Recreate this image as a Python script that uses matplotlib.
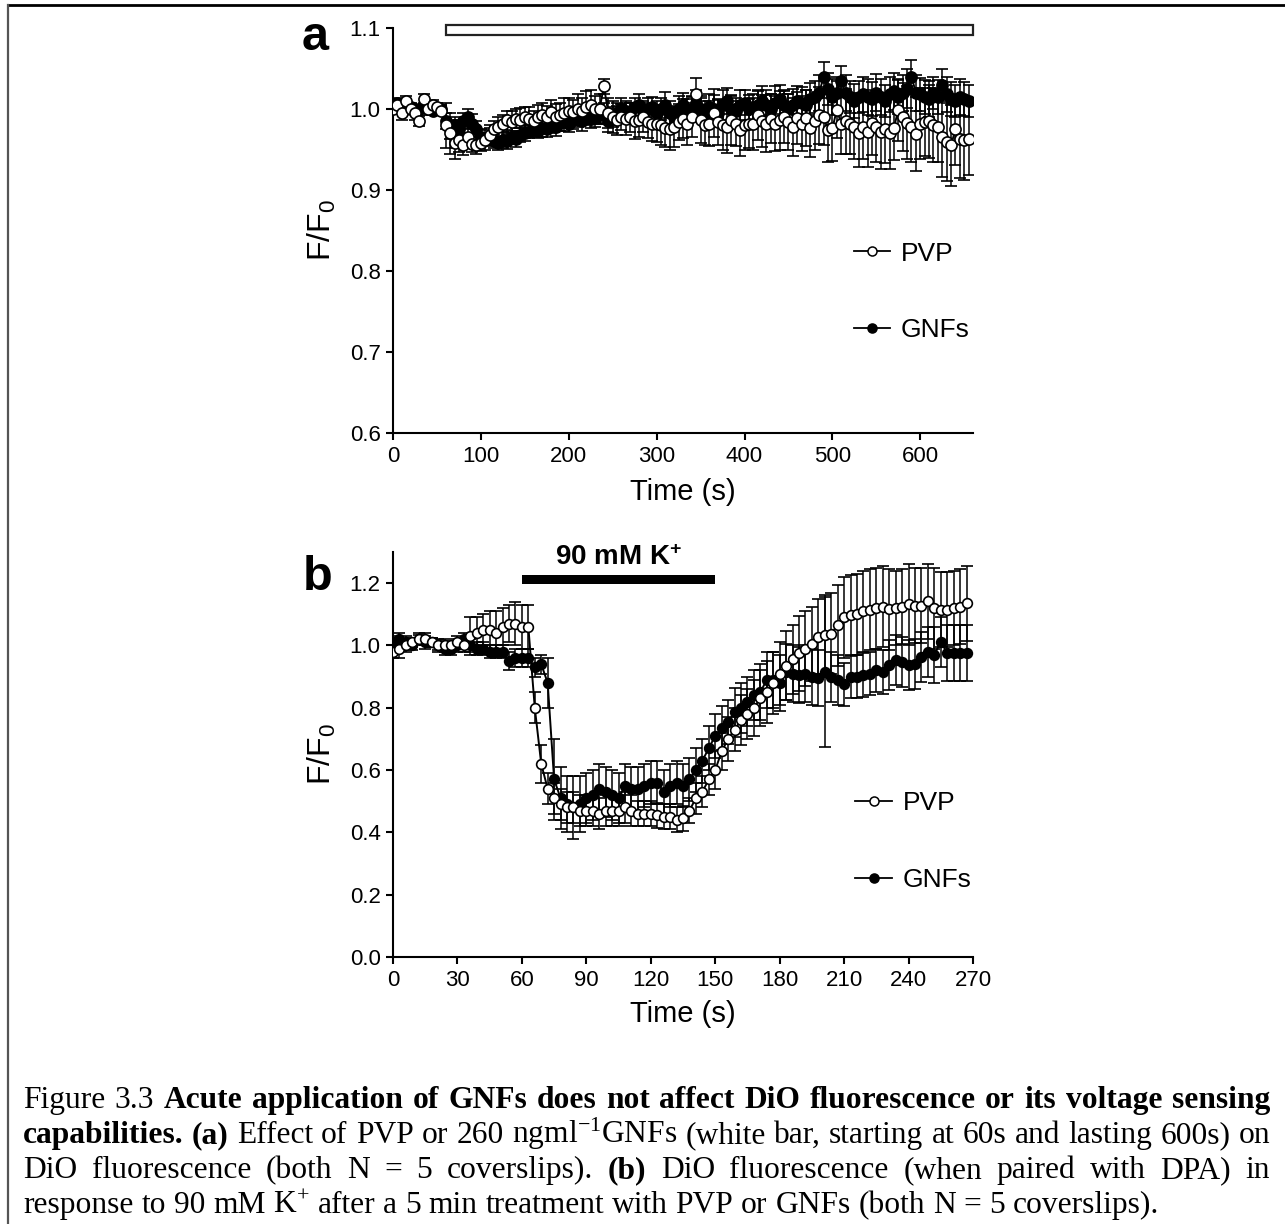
import numpy as np
import matplotlib
matplotlib.use("Agg")
import matplotlib.pyplot as plt
from matplotlib.lines import Line2D
from matplotlib.patches import Rectangle

# ---------------- data: panel a (sampled every 5 s) ----------------
time_a = np.arange(0, 660, 5)
pvp_a = [1.000, 1.005, 0.995, 1.010, 1.000, 0.995, 0.985, 1.012, 1.000, 1.005, 1.002, 0.998,
         0.980, 0.970, 0.958, 0.962, 0.955, 0.965, 0.957, 0.955, 0.958, 0.962, 0.968, 0.975,
         0.978, 0.982, 0.986, 0.984, 0.988, 0.986, 0.990, 0.988, 0.985, 0.990, 0.992, 0.990,
         0.996, 0.990, 0.993, 0.995, 0.998, 0.996, 1.000, 0.998, 1.002, 1.005, 1.000, 1.000,
         1.028, 0.995, 0.990, 0.986, 0.990, 0.988, 0.990, 0.985, 0.986, 0.990, 0.984, 0.982,
         0.981, 0.980, 0.977, 0.975, 0.978, 0.984, 0.988, 0.982, 0.990, 1.018, 0.986, 0.980,
         0.982, 0.995, 0.984, 0.980, 0.978, 0.986, 0.982, 0.974, 0.980, 0.982, 0.982, 0.992,
         0.985, 0.982, 0.988, 0.982, 0.986, 0.990, 0.984, 0.978, 0.989, 0.982, 0.989, 0.977,
         0.985, 0.992, 0.990, 0.974, 0.976, 0.999, 0.982, 0.985, 0.982, 0.978, 0.970, 0.978,
         0.971, 0.983, 0.978, 0.971, 0.975, 0.970, 0.977, 0.999, 0.990, 0.983, 0.978, 0.969,
         0.982, 0.984, 0.985, 0.980, 0.978, 0.966, 0.959, 0.955, 0.975, 0.963, 0.962, 0.963]
pvp_a_err = [0.006, 0.006, 0.008, 0.006, 0.006, 0.008, 0.006, 0.006, 0.008, 0.006, 0.006, 0.006,
             0.028, 0.025, 0.020, 0.015, 0.012, 0.012, 0.010, 0.010, 0.010, 0.012, 0.012, 0.010,
             0.012, 0.010, 0.012, 0.014, 0.012, 0.015, 0.012, 0.014, 0.012, 0.015, 0.016, 0.014,
             0.015, 0.016, 0.014, 0.018, 0.016, 0.015, 0.018, 0.016, 0.020, 0.018, 0.016, 0.018,
             0.009, 0.018, 0.020, 0.018, 0.016, 0.020, 0.018, 0.022, 0.020, 0.018, 0.020, 0.022,
             0.022, 0.025, 0.024, 0.026, 0.025, 0.022, 0.024, 0.026, 0.025, 0.020, 0.028, 0.025,
             0.028, 0.030, 0.028, 0.030, 0.032, 0.030, 0.028, 0.032, 0.030, 0.030, 0.032, 0.030,
             0.032, 0.035, 0.030, 0.034, 0.036, 0.032, 0.034, 0.036, 0.032, 0.034, 0.035, 0.036,
             0.036, 0.035, 0.034, 0.040, 0.040, 0.035, 0.038, 0.040, 0.038, 0.040, 0.042, 0.040,
             0.042, 0.040, 0.044, 0.045, 0.042, 0.044, 0.040, 0.038, 0.042, 0.045, 0.044, 0.046,
             0.044, 0.042, 0.045, 0.046, 0.044, 0.050, 0.048, 0.050, 0.044, 0.048, 0.050, 0.045]
gnf_a = [1.005, 1.008, 1.003, 1.000, 1.002, 1.000, 1.000, 1.003, 1.000, 0.998, 1.000, 1.000,
         0.985, 0.975, 0.980, 0.975, 0.985, 0.990, 0.982, 0.975, 0.965, 0.962, 0.966, 0.960,
         0.958, 0.962, 0.960, 0.965, 0.963, 0.968, 0.970, 0.972, 0.975, 0.973, 0.976, 0.975,
         0.980, 0.978, 0.983, 0.985, 0.982, 0.986, 0.988, 0.985, 0.990, 0.988, 0.990, 0.992,
         0.995, 0.985, 0.990, 0.995, 1.000, 0.998, 0.995, 1.002, 1.005, 0.998, 1.000, 1.003,
         0.995, 1.000, 1.005, 0.995, 0.990, 1.000, 1.005, 0.998, 1.000, 1.008, 1.000, 0.995,
         1.002, 1.000, 0.995, 1.005, 1.010, 1.000, 0.998, 1.005, 1.008, 1.000, 1.003, 1.005,
         1.010, 1.005, 1.000, 1.008, 1.012, 1.005, 1.000, 1.005, 1.010, 1.008, 1.005, 1.012,
         1.015, 1.020, 1.040, 1.025, 1.015, 1.020, 1.035, 1.020, 1.015, 1.010, 1.015, 1.018,
         1.015, 1.012, 1.020, 1.015, 1.010, 1.018, 1.022, 1.015, 1.020, 1.025, 1.040, 1.020,
         1.018, 1.015, 1.012, 1.020, 1.015, 1.030, 1.018, 1.012, 1.010, 1.015, 1.012, 1.010]
gnf_a_err = [0.005, 0.005, 0.005, 0.005, 0.005, 0.005, 0.005, 0.005, 0.005, 0.005, 0.005, 0.005,
             0.010, 0.012, 0.010, 0.012, 0.010, 0.010, 0.012, 0.010, 0.010, 0.008, 0.010, 0.008,
             0.008, 0.010, 0.009, 0.008, 0.010, 0.009, 0.010, 0.008, 0.010, 0.009, 0.010, 0.010,
             0.010, 0.011, 0.010, 0.012, 0.010, 0.011, 0.010, 0.012, 0.010, 0.011, 0.012, 0.010,
             0.012, 0.013, 0.012, 0.012, 0.014, 0.012, 0.013, 0.012, 0.014, 0.012, 0.013, 0.012,
             0.015, 0.014, 0.016, 0.015, 0.014, 0.016, 0.015, 0.014, 0.016, 0.015, 0.016, 0.015,
             0.016, 0.017, 0.016, 0.018, 0.016, 0.017, 0.016, 0.018, 0.016, 0.017, 0.016, 0.018,
             0.018, 0.019, 0.018, 0.020, 0.018, 0.019, 0.018, 0.020, 0.018, 0.019, 0.018, 0.020,
             0.020, 0.022, 0.018, 0.020, 0.022, 0.020, 0.018, 0.022, 0.020, 0.021, 0.020, 0.022,
             0.022, 0.021, 0.023, 0.022, 0.020, 0.022, 0.023, 0.021, 0.022, 0.024, 0.020, 0.022,
             0.020, 0.021, 0.022, 0.020, 0.021, 0.020, 0.022, 0.021, 0.020, 0.022, 0.021, 0.020]

# ---------------- data: panel b (sampled every 3 s) ----------------
time_b = np.arange(0, 270, 3)
pvp_b = [0.98, 0.99, 1.00, 1.01, 1.02, 1.02, 1.01, 1.00, 1.00, 1.00, 1.01, 1.00,
         1.03, 1.04, 1.05, 1.05, 1.04, 1.06, 1.07, 1.07, 1.06, 1.06,
         0.80, 0.62, 0.54, 0.51, 0.49, 0.48, 0.48, 0.47, 0.47, 0.47, 0.46, 0.47,
         0.47, 0.47, 0.48, 0.47, 0.46, 0.46, 0.46, 0.455, 0.45, 0.45, 0.44, 0.445,
         0.47, 0.51, 0.53, 0.57, 0.60, 0.66, 0.70, 0.73, 0.76, 0.78, 0.80, 0.83,
         0.85, 0.88, 0.91, 0.935, 0.955, 0.975, 0.99, 1.005, 1.028, 1.033, 1.038, 1.065,
         1.09, 1.097, 1.10, 1.11, 1.115, 1.12, 1.124, 1.117, 1.12, 1.124, 1.133, 1.128,
         1.128, 1.142, 1.12, 1.115, 1.115, 1.12, 1.124, 1.135]
pvp_b_err = [0.02, 0.03, 0.02, 0.015, 0.015, 0.02, 0.015, 0.015, 0.02, 0.015, 0.02, 0.02,
             0.06, 0.05, 0.05, 0.06, 0.07, 0.06, 0.06, 0.07, 0.07, 0.07,
             0.05, 0.06, 0.05, 0.05, 0.05, 0.05, 0.05, 0.05, 0.05, 0.05, 0.05, 0.05,
             0.05, 0.05, 0.05, 0.05, 0.04, 0.04, 0.04, 0.04, 0.04, 0.04, 0.04, 0.04,
             0.04, 0.05, 0.05, 0.05, 0.06, 0.06, 0.07, 0.07, 0.08, 0.08, 0.09, 0.09,
             0.10, 0.10, 0.10, 0.11, 0.11, 0.12, 0.12, 0.12, 0.12, 0.13, 0.13, 0.13,
             0.13, 0.13, 0.13, 0.13, 0.13, 0.13, 0.13, 0.13, 0.12, 0.12, 0.13, 0.12,
             0.12, 0.12, 0.13, 0.12, 0.12, 0.12, 0.12, 0.12]
gnf_b = [1.01, 1.02, 1.01, 1.00, 1.02, 1.01, 1.01, 1.00, 0.99, 0.99, 1.00, 1.02,
         1.00, 0.99, 0.99, 0.98, 0.98, 0.98, 0.95, 0.96, 0.96, 0.96,
         0.93, 0.94, 0.88, 0.57, 0.51, 0.49, 0.48, 0.49, 0.51, 0.52, 0.54, 0.53,
         0.52, 0.51, 0.55, 0.54, 0.54, 0.55, 0.56, 0.56, 0.53, 0.55, 0.56, 0.55,
         0.57, 0.60, 0.63, 0.67, 0.71, 0.735, 0.755, 0.785, 0.80, 0.82, 0.84, 0.85,
         0.89, 0.89, 0.88, 0.915, 0.91, 0.905, 0.91, 0.90, 0.895, 0.915, 0.90, 0.89,
         0.875, 0.90, 0.90, 0.905, 0.91, 0.92, 0.915, 0.937, 0.953, 0.947, 0.937, 0.94,
         0.963, 0.98, 0.97, 1.012, 0.975, 0.975, 0.975, 0.975]
gnf_b_err = [0.02, 0.02, 0.02, 0.015, 0.02, 0.02, 0.015, 0.02, 0.02, 0.02, 0.02, 0.02,
             0.02, 0.02, 0.02, 0.02, 0.02, 0.02, 0.03, 0.03, 0.03, 0.03,
             0.03, 0.03, 0.08, 0.13, 0.10, 0.09, 0.10, 0.09, 0.08, 0.08, 0.08, 0.08,
             0.08, 0.08, 0.07, 0.07, 0.07, 0.07, 0.07, 0.07, 0.07, 0.07, 0.07, 0.07,
             0.07, 0.07, 0.07, 0.07, 0.07, 0.07, 0.07, 0.08, 0.08, 0.08, 0.08, 0.09,
             0.09, 0.09, 0.09, 0.09, 0.09, 0.09, 0.09, 0.09, 0.09, 0.24, 0.08, 0.08,
             0.07, 0.07, 0.07, 0.07, 0.07, 0.07, 0.07, 0.08, 0.08, 0.08, 0.08, 0.08,
             0.08, 0.08, 0.09, 0.08, 0.09, 0.09, 0.09, 0.09]

series_labels = ["PVP", "GNFs"]
xticks_a = [0, 100, 200, 300, 400, 500, 600]
yticks_a = [0.6, 0.7, 0.8, 0.9, 1.0, 1.1]
xticks_b = [0, 30, 60, 90, 120, 150, 180, 210, 240, 270]
yticks_b = [0.0, 0.2, 0.4, 0.6, 0.8, 1.0, 1.2]
bar_a = (60, 660)    # treatment (white bar)
bar_b = (60, 150)    # 90 mM K+

caption_lines = [
    [("Figure 3.3", "normal"),
     ("Acute application of GNFs does not affect DiO fluorescence or its voltage sensing", "bold")],
    [("capabilities. (a)", "bold"),
     ("Effect of PVP or 260 ngml$^{-1}$GNFs (white bar, starting at 60s and lasting 600s) on", "normal")],
    [("DiO fluorescence (both N = 5 coverslips).", "normal"), ("(b)", "bold"),
     ("DiO fluorescence (when paired with DPA) in", "normal")],
    [("response to 90 mM K$^{+}$ after a 5 min treatment with PVP or GNFs (both N = 5 coverslips).", "normal")],
]

# ---------------- figure ----------------
plt.rcParams['font.family'] = ['Liberation Sans', 'DejaVu Sans']
plt.rcParams['mathtext.default'] = 'regular'

W, H = 1285, 1224
fig = plt.figure(figsize=(W / 100, H / 100), dpi=100)
fig.patch.set_facecolor('white')


def fx(px):
    return px / W


def fy(py):
    return 1 - py / H


ax_a = fig.add_axes([fx(393), fy(433), fx(973) - fx(393), fy(28) - fy(433)])
ax_b = fig.add_axes([fx(393), fy(957), fx(973) - fx(393), fy(552) - fy(957)])


def style(ax):
    for s in ['top', 'right']:
        ax.spines[s].set_visible(False)
    for s in ['left', 'bottom']:
        ax.spines[s].set_linewidth(1.5)
    ax.tick_params(direction='out', length=5, width=1.5, labelsize=16, pad=4)


def draw(ax, t, y, e, filled, ms, z):
    ax.errorbar(t, y, yerr=e, fmt='-o', color='k', lw=1.4, ms=ms,
                mfc='k' if filled else 'white', mec='k', mew=1.2,
                elinewidth=1.1, capsize=4.5, capthick=1.1, zorder=z)


def legend(ax, x, y):
    hp = Line2D([], [], color='k', lw=1.3, marker='o', ms=6.5, mfc='white', mec='k', mew=1.1)
    hg = Line2D([], [], color='k', lw=1.3, marker='o', ms=6.5, mfc='k', mec='k', mew=1.1)
    ax.legend([hp, hg], series_labels, loc='center left', bbox_to_anchor=(x, y),
              frameon=False, fontsize=19, handlelength=1.4, handletextpad=0.4,
              labelspacing=2.0, borderpad=0, borderaxespad=0, numpoints=1)


# panel a
style(ax_a)
draw(ax_a, time_a, gnf_a, gnf_a_err, True, 8, 3)
draw(ax_a, time_a, pvp_a, pvp_a_err, False, 8, 4)
ax_a.set_xlim(0, 660)
ax_a.set_ylim(0.6, 1.1)
ax_a.set_xticks(xticks_a)
ax_a.set_yticks(yticks_a)
ax_a.set_yticklabels([f"{v:.1f}" for v in yticks_a])
ax_a.add_patch(Rectangle((bar_a[0], 1.0915), bar_a[1] - bar_a[0], 0.0122,
                         facecolor='white', edgecolor='#222222', lw=1.6, clip_on=False, zorder=5))
ax_a.set_xlabel("Time (s)", fontsize=21)
ax_a.set_ylabel("F/F$_0$", fontsize=23)
ax_a.xaxis.set_label_coords(0.5, -0.112)
ax_a.yaxis.set_label_coords(-0.095, 0.5)
legend(ax_a, 0.794, 0.348)

# panel b
style(ax_b)
draw(ax_b, time_b, gnf_b, gnf_b_err, True, 7, 3)
draw(ax_b, time_b, pvp_b, pvp_b_err, False, 7, 4)
ax_b.set_xlim(0, 270)
ax_b.set_ylim(0, 1.3)
ax_b.set_xticks(xticks_b)
ax_b.set_yticks(yticks_b)
ax_b.set_yticklabels([f"{v:.1f}" for v in yticks_b])
ax_b.add_patch(Rectangle((bar_b[0], 1.198), bar_b[1] - bar_b[0], 0.027,
                         facecolor='black', edgecolor='black', lw=0, clip_on=False, zorder=5))
ax_b.text((bar_b[0] + bar_b[1]) / 2, 1.258, "90 mM K$^{+}$", fontsize=20, fontweight='bold',
          ha='center', va='baseline', clip_on=False)
ax_b.set_xlabel("Time (s)", fontsize=21)
ax_b.set_ylabel("F/F$_0$", fontsize=23)
ax_b.xaxis.set_label_coords(0.5, -0.105)
ax_b.yaxis.set_label_coords(-0.095, 0.5)
legend(ax_b, 0.797, 0.285)

# panel letters
fig.text(fx(302), fy(50), "a", fontsize=35, fontweight='bold', ha='left', va='baseline')
fig.text(fx(303), fy(590), "b", fontsize=35, fontweight='bold', ha='left', va='baseline')

# page frame (top and left rules)
fig.add_artist(Line2D([fx(8), 1.0], [fy(5), fy(5)], transform=fig.transFigure, color='black', lw=2.0))
fig.add_artist(Line2D([fx(8), fx(8)], [fy(5), 0.0], transform=fig.transFigure, color='#555555', lw=1.6))

# ---------------- caption (justified) ----------------
renderer = fig.canvas.get_renderer()
SERIF = ['Liberation Serif', 'DejaVu Serif']
cap_left, cap_right = 23, 1270
last_line_end = 1172
cap_baselines = [1108, 1143, 1178, 1213]


def words_of(line):
    out = []
    for seg, wt in line:
        for w in seg.split(' '):
            if w:
                out.append((w, wt))
    return out


def measure(word, wt, fs):
    t = fig.text(0, 0, word, fontsize=fs, fontweight=wt, family=SERIF)
    w = t.get_window_extent(renderer).width
    t.remove()
    return w


fs0 = 20.0
space0 = 0.25 * fs0 * 100 / 72
line_words = [words_of(l) for l in caption_lines]
nat = []
for ws in line_words:
    widths = [measure(w, wt, fs0) for w, wt in ws]
    nat.append(sum(widths) + space0 * (len(ws) - 1))
fs = fs0 * (last_line_end - cap_left) / nat[-1]
for i in range(3):
    fs = min(fs, fs0 * (cap_right - cap_left) / nat[i] * 0.995)
space = 0.25 * fs * 100 / 72

for i, ws in enumerate(line_words):
    widths = [measure(w, wt, fs) for w, wt in ws]
    if i < len(line_words) - 1 and len(ws) > 1:
        gap = (cap_right - cap_left - sum(widths)) / (len(ws) - 1)
    else:
        gap = space
    x = cap_left
    for (w, wt), wd in zip(ws, widths):
        fig.text(fx(x), fy(cap_baselines[i]), w, fontsize=fs, fontweight=wt, family=SERIF,
                 ha='left', va='baseline')
        x += wd + gap

fig.savefig("out.png", dpi=100)
